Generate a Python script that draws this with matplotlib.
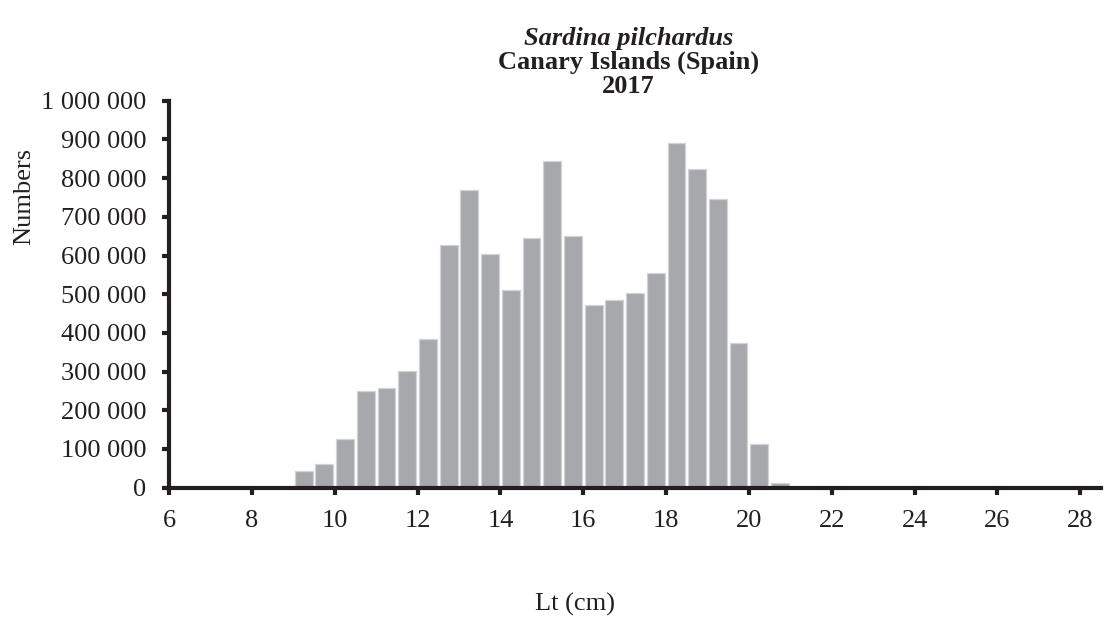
import matplotlib
matplotlib.use("Agg")
import matplotlib.pyplot as plt
from matplotlib.ticker import FuncFormatter

# Length classes (cm, bin centres) and catch numbers
length_cm = [9.25, 9.75, 10.25, 10.75, 11.25, 11.75, 12.25, 12.75, 13.25, 13.75,
             14.25, 14.75, 15.25, 15.75, 16.25, 16.75, 17.25, 17.75, 18.25, 18.75,
             19.25, 19.75, 20.25, 20.75]
numbers = [42000, 61000, 125000, 251000, 258000, 302000, 384000, 626000, 768000, 603000,
           511000, 645000, 843000, 650000, 471000, 484000, 504000, 555000, 891000, 823000,
           745000, 373000, 113000, 13000]

x_ticks = list(range(6, 29, 2))
y_ticks = list(range(0, 1000001, 100000))

plt.rcParams['font.family'] = ['Liberation Serif', 'DejaVu Serif']

fig = plt.figure(figsize=(11.1, 6.21), dpi=100)
ax = fig.add_axes([0.1523, 0.2147, 0.9919 - 0.1523, 0.8378 - 0.2147])

ax.bar(length_cm, numbers, width=0.43, color='#a7a8ac', edgecolor='#d2d3d5',
       linewidth=0.9, zorder=2)

ax.set_xlim(6, 28.5)
ax.set_ylim(0, 1000000)
ax.set_xticks(x_ticks)
ax.set_yticks(y_ticks)


def thousands(v, pos):
    return f"{int(v):,}".replace(",", " ")


ax.yaxis.set_major_formatter(FuncFormatter(thousands))

axis_col = '#231f20'
for side in ('top', 'right'):
    ax.spines[side].set_visible(False)
for side in ('left', 'bottom'):
    ax.spines[side].set_linewidth(3.0)
    ax.spines[side].set_color(axis_col)
    ax.spines[side].set_zorder(3)
ax.spines['bottom'].set_bounds(5.95, 28.5)

ax.tick_params(axis='both', direction='out', length=5, width=3, color=axis_col,
               labelsize=19, labelcolor='#231f20')
ax.tick_params(axis='x', pad=11)
ax.tick_params(axis='y', pad=11.5)

title_kw = dict(ha='center', va='baseline', fontsize=19, fontweight='bold', color='#231f20')
fig.text(0.566, 0.928, 'Sardina pilchardus', style='italic', **title_kw)
fig.text(0.566, 0.889, 'Canary Islands (Spain)', **title_kw)
fig.text(0.566, 0.850, '2017', **title_kw)

fig.text(0.518, 0.026, 'Lt (cm)', ha='center', va='center', fontsize=19, color='#231f20')
fig.text(0.022, 0.683, 'Numbers', ha='center', va='center', rotation=90,
         fontsize=19, color='#231f20')

fig.savefig('out.png', dpi=100)
